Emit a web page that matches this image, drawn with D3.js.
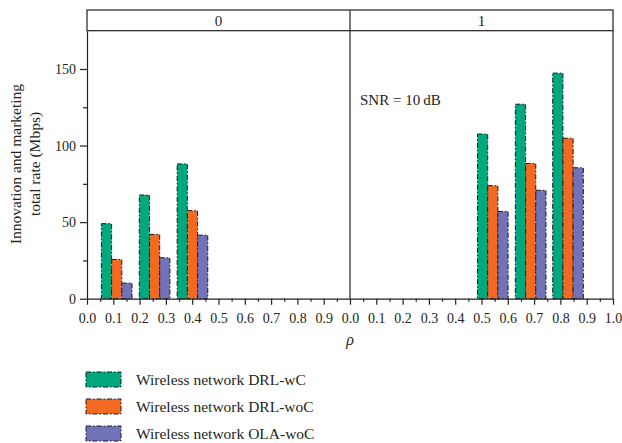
<!DOCTYPE html>
<html>
<head>
<meta charset="utf-8">
<script src="https://cdn.jsdelivr.net/npm/d3@7"></script>
<style>
  body { margin: 0; background: #fff; }
  svg { font-family: "Liberation Serif", "DejaVu Serif", serif; }
</style>
</head>
<body>
<div id="chart"></div>
<script>
// panels (facet values) and series
const panels = ["0", "1"];
const seriesNames = ["Wireless network DRL-wC", "Wireless network DRL-woC", "Wireless network OLA-woC"];
const seriesColors = ["#00a87e", "#f26a22", "#7272b8"];

// group centres on the rho axis, one list per panel
const rho0 = [0.113, 0.257, 0.401];
const rho1 = [0.543, 0.687, 0.829];

// values (Mbps) per series, panel 0
const drlwc0 = [49, 67.7, 88];
const drlwoc0 = [25.6, 42, 57.5];
const olawoc0 = [10.2, 26.7, 41.5];
// panel 1
const drlwc1 = [107.5, 127, 147.3];
const drlwoc1 = [73.8, 88.3, 104.8];
const olawoc1 = [57, 70.8, 85.5];

const yTicks = [0, 50, 100, 150];
const barWidth = 0.0388; // in rho units

const width = 622, height = 443;
const mLeft = 87, mRight = 613, mTop = 30.7, mBottom = 298.7, headerTop = 10;
const divX = 350;

const svg = d3.select("#chart").append("svg")
    .attr("width", width)
    .attr("height", height);

const y = d3.scaleLinear().domain([0, 175]).range([mBottom, mTop]);
const xScales = [
    d3.scaleLinear().domain([0, 1]).range([mLeft, divX]),
    d3.scaleLinear().domain([0, 1]).range([divX, mRight])
];

const textColor = "#231f20";

// bars
const panelData = [
    { rho: rho0, vals: [drlwc0, drlwoc0, olawoc0] },
    { rho: rho1, vals: [drlwc1, drlwoc1, olawoc1] }
];
panelData.forEach((p, pi) => {
    const x = xScales[pi];
    const bars = [];
    p.rho.forEach((r, gi) => {
        p.vals.forEach((s, si) => {
            bars.push({ r: r, v: s[gi], si: si });
        });
    });
    svg.append("g").selectAll("rect")
        .data(bars)
        .enter().append("rect")
        .attr("x", d => x(d.r + (d.si - 1.5) * barWidth))
        .attr("width", d => x(barWidth) - x(0))
        .attr("y", d => y(d.v))
        .attr("height", d => y(0) - y(d.v))
        .attr("fill", d => seriesColors[d.si])
        .attr("stroke", "#1a1a1a")
        .attr("stroke-width", 1)
        .attr("stroke-dasharray", "5,2,1.5,2");
});

// frame: header strip, divider, right border
const frame = svg.append("g").attr("stroke", textColor).attr("stroke-width", 1.2).attr("fill", "none");
frame.append("rect").attr("x", mLeft).attr("y", headerTop).attr("width", mRight - mLeft).attr("height", mTop - headerTop);
frame.append("line").attr("x1", divX).attr("x2", divX).attr("y1", headerTop).attr("y2", mBottom);
frame.append("line").attr("x1", mRight).attr("x2", mRight).attr("y1", mTop).attr("y2", mBottom);

// panel titles
panels.forEach((p, i) => {
    const x = xScales[i];
    svg.append("text")
        .attr("x", (x.range()[0] + x.range()[1]) / 2)
        .attr("y", 25.5)
        .attr("text-anchor", "middle")
        .attr("font-size", 15)
        .attr("fill", textColor)
        .text(p);
});

// y axis
const yAxis = svg.append("g")
    .attr("transform", `translate(${mLeft},0)`)
    .call(d3.axisLeft(y).tickValues(yTicks).tickSize(7).tickSizeOuter(0).tickPadding(4));
yAxis.select(".domain").attr("stroke", textColor).attr("stroke-width", 1.2);
yAxis.selectAll(".tick line").attr("stroke", textColor).attr("stroke-width", 1.2);
yAxis.selectAll(".tick text").attr("font-size", 14).attr("fill", textColor).attr("font-family", "Liberation Serif");
svg.append("g")
    .attr("transform", `translate(${mLeft},0)`)
    .call(d3.axisLeft(y).tickValues([25, 75, 125]).tickSize(4).tickFormat(""))
    .call(g => g.select(".domain").remove())
    .selectAll("line").attr("stroke", textColor).attr("stroke-width", 1.2);

// x axes
xScales.forEach((x, i) => {
    const majors = d3.range(0, i === 0 ? 10 : 11).map(k => k / 10);
    const minors = d3.range(0, 10).map(k => k / 10 + 0.05);
    const ax = svg.append("g")
        .attr("transform", `translate(0,${mBottom})`)
        .call(d3.axisBottom(x).tickValues(majors).tickSize(6).tickSizeOuter(0).tickPadding(8)
            .tickFormat(d3.format(".1f")));
    ax.select(".domain").attr("stroke", textColor).attr("stroke-width", 1.2);
    ax.selectAll(".tick line").attr("stroke", textColor).attr("stroke-width", 1.2);
    ax.selectAll(".tick text").attr("font-size", 14).attr("fill", textColor).attr("font-family", "Liberation Serif");
    svg.append("g")
        .attr("transform", `translate(0,${mBottom})`)
        .call(d3.axisBottom(x).tickValues(minors).tickSize(3).tickFormat(""))
        .call(g => g.select(".domain").remove())
        .selectAll("line").attr("stroke", textColor).attr("stroke-width", 1.2);
});

// axis titles
svg.append("text")
    .attr("x", divX).attr("y", 345)
    .attr("text-anchor", "middle")
    .attr("font-size", 16)
    .attr("font-style", "italic")
    .attr("fill", textColor)
    .text("ρ");

const yTitle = svg.append("text")
    .attr("transform", "translate(21,164) rotate(-90)")
    .attr("text-anchor", "middle")
    .attr("font-size", 15.5)
    .attr("fill", textColor);
yTitle.append("tspan").attr("x", 0).attr("dy", 0).text("Innovation and marketing");
yTitle.append("tspan").attr("x", 0).attr("dy", 19).text("total rate (Mbps)");

// annotation
svg.append("text")
    .attr("x", 360).attr("y", 105)
    .attr("font-size", 15)
    .attr("fill", textColor)
    .text("SNR = 10\u2009dB");

// legend
const legend = svg.append("g");
seriesNames.forEach((name, i) => {
    const ly = 372 + i * 27;
    legend.append("rect")
        .attr("x", 86).attr("y", ly)
        .attr("width", 35).attr("height", 15)
        .attr("fill", seriesColors[i])
        .attr("stroke", "#1a1a1a")
        .attr("stroke-width", 1)
        .attr("stroke-dasharray", "5,2,1.5,2");
    legend.append("text")
        .attr("x", 136).attr("y", ly + 12.5)
        .attr("font-size", 15.5)
        .attr("fill", textColor)
        .text(name);
});
</script>
</body>
</html>
